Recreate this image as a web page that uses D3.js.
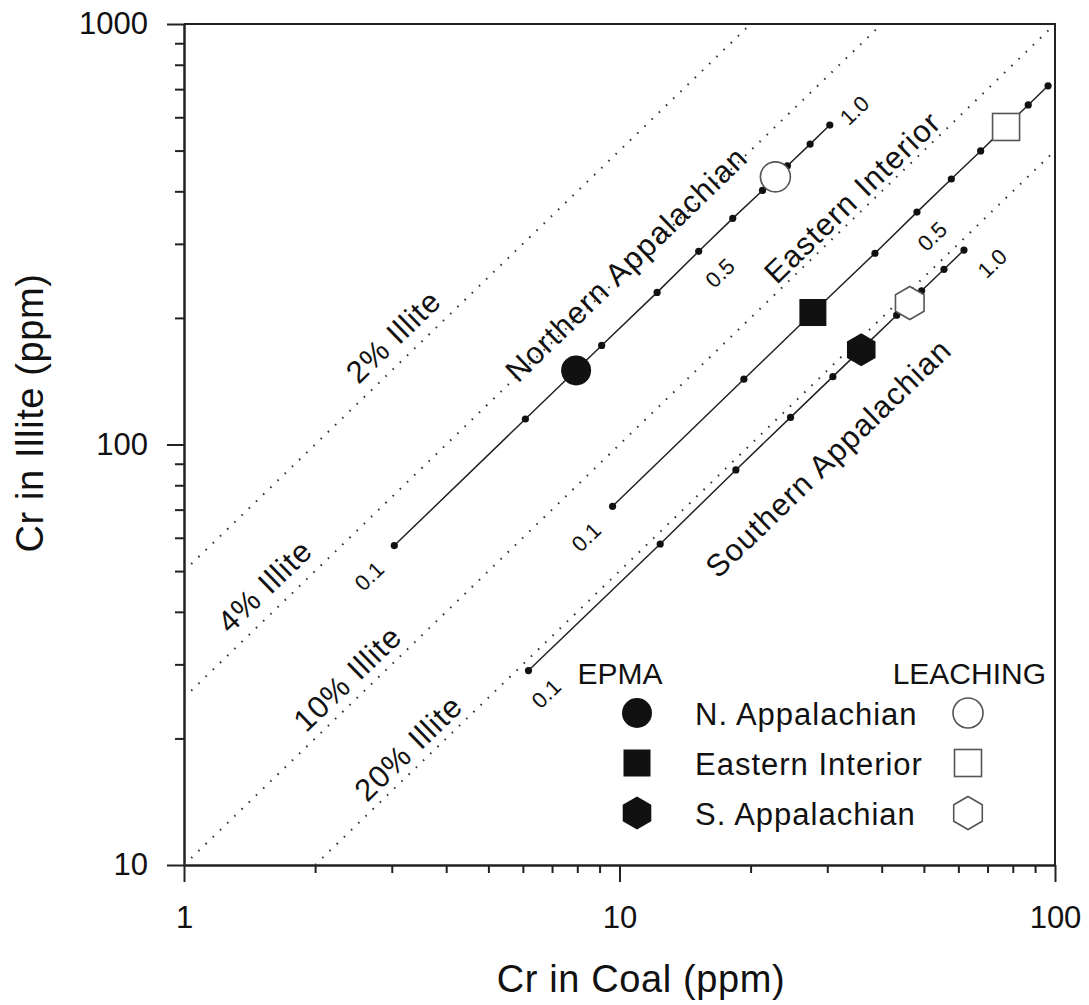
<!DOCTYPE html>
<html>
<head>
<meta charset="utf-8">
<script src="https://cdn.jsdelivr.net/npm/d3@7"></script>
<style>
  body { margin: 0; background: #fff; }
  text { font-family: "Liberation Sans", Arial, sans-serif; fill: #111; }
  .dotted { fill: none; stroke: #333; stroke-width: 2; stroke-dasharray: 1.6 8.4; }
  .mix { fill: none; stroke: #222; stroke-width: 1.5; }
  .axis path, .axis line { stroke: #222; stroke-width: 2; }
</style>
</head>
<body>
<svg id="chart" width="1089" height="1005"></svg>
<script>
// % illite reference lines, ends where they meet the frame
const illiteLabels = ["2% Illite", "4% Illite", "10% Illite", "20% Illite"];
const illiteStart = [[1, 50], [1, 25], [1, 10], [2, 10]];
const illiteEnd = [[20, 1000], [40, 1000], [100, 1000], [100, 500]];
const illiteLabelAt = [[3.02, 181], [1.53, 46.1], [2.37, 27.8], [3.27, 19.0]];

// mixing lines, illite fraction 0.1 ... 1.0
const basins = ["Northern Appalachian", "Eastern Interior", "Southern Appalachian"];
const basinLabelAt = [[10.35, 269], [34.2, 388], [30.1, 93]];
const naCoal = [3.04, 6.08, 9.1, 12.2, 15.2, 18.2, 21.3, 24.3, 27.4, 30.4];
const naIllite = [57.5, 115, 172, 230, 288, 345, 402, 460, 518, 575];
const eiCoal = [9.64, 19.3, 28.9, 38.6, 48.2, 57.8, 67.5, 77.1, 86.8, 96.4];
const eiIllite = [71.3, 143, 214, 285, 357, 428, 499, 570, 642, 713];
const saCoal = [6.18, 12.4, 18.5, 24.7, 30.9, 37.1, 43.3, 49.4, 55.6, 61.8];
const saIllite = [29, 58, 87, 116, 145, 174, 203, 232, 261, 290];

// fraction labels along the mixing lines
const fracText = ["0.1", "0.1", "0.1", "0.5", "0.5", "1.0", "1.0"];
const fracAt = [[2.66, 48.7], [8.38, 60.3], [6.78, 25.6], [17.0, 256], [52.2, 313], [34.6, 624], [71.7, 270]];

// EPMA (filled) and LEACHING (open) estimates
const regions = ["N. Appalachian", "Eastern Interior", "S. Appalachian"];
const shapes = ["circle", "square", "hexagon"];
const epmaCoal = [7.95, 27.8, 35.9];
const epmaIllite = [150, 206, 168];
const leachCoal = [22.8, 77.2, 46.4];
const leachIllite = [433, 569, 217];

const xTicks = [1, 10, 100];
const yTicks = [10, 100, 1000];

const svg = d3.select("svg#chart");
const margin = { top: 24, right: 34, bottom: 140, left: 184 };
const width = 1089 - margin.left - margin.right;
const height = 1005 - margin.top - margin.bottom;
const plot = svg.append("g")
  .attr("transform", "translate(" + margin.left + "," + margin.top + ")");

const x = d3.scaleLog().domain([1, 100]).range([0, width]);
const y = d3.scaleLog().domain([10, 1000]).range([height, 0]);

// angle of a y ~ x line in pixel space
const angle = Math.atan2(y(1000) - y(10), x(100) - x(1)) * 180 / Math.PI;

// minor ticks
const xMinor = [2, 3, 4, 5, 6, 7, 8, 9, 20, 30, 40, 50, 60, 70, 80, 90];
const yMinor = [20, 30, 40, 50, 60, 70, 80, 90, 200, 300, 400, 500, 600, 700, 800, 900];

plot.append("g").attr("class", "axis")
  .attr("transform", "translate(0," + height + ")")
  .call(d3.axisBottom(x).tickValues(xMinor).tickSize(8).tickSizeOuter(0).tickFormat(""));
plot.append("g").attr("class", "axis")
  .attr("transform", "translate(0," + height + ")")
  .call(d3.axisBottom(x).tickValues(xTicks).tickSize(17).tickSizeOuter(0).tickPadding(24).tickFormat(d3.format("d")))
  .selectAll("text").style("font-size", "31px").attr("fill", "#111");

plot.append("g").attr("class", "axis")
  .call(d3.axisLeft(y).tickValues(yMinor).tickSize(9).tickSizeOuter(0).tickFormat(""));
plot.append("g").attr("class", "axis")
  .call(d3.axisLeft(y).tickValues(yTicks).tickSize(17).tickSizeOuter(0).tickPadding(19).tickFormat(d3.format("d")))
  .selectAll("text").style("font-size", "31px").attr("fill", "#111");

// frame top and right
plot.append("path")
  .attr("d", "M0,0H" + width + "V" + height)
  .attr("fill", "none").attr("stroke", "#222").attr("stroke-width", 2);

// dotted % illite lines
plot.selectAll("line.dotted").data(illiteStart)
  .join("line")
  .attr("class", "dotted")
  .attr("x1", d => x(d[0])).attr("y1", d => y(d[1]))
  .attr("x2", (d, i) => x(illiteEnd[i][0])).attr("y2", (d, i) => y(illiteEnd[i][1]));

const rotText = function (sel, size) {
  sel.attr("transform", d => "translate(" + x(d[0]) + "," + y(d[1]) + ") rotate(" + angle + ")")
    .attr("text-anchor", "middle")
    .attr("dy", "0.36em")
    .style("font-size", size + "px");
};

plot.selectAll("text.illite").data(illiteLabelAt)
  .join("text")
  .attr("class", "illite")
  .call(rotText, 31)
  .style("letter-spacing", "1px")
  .text((d, i) => illiteLabels[i]);

// mixing lines with fraction dots
const mixLines = [[naCoal, naIllite], [eiCoal, eiIllite], [saCoal, saIllite]];
const line = d3.line().x(d => x(d[0])).y(d => y(d[1]));
mixLines.forEach(m => {
  const pts = m[0].map((c, i) => [c, m[1][i]]);
  plot.append("path").attr("class", "mix").attr("d", line(pts));
  plot.append("g").selectAll("circle").data(pts)
    .join("circle")
    .attr("cx", d => x(d[0])).attr("cy", d => y(d[1]))
    .attr("r", 3.6).attr("fill", "#111");
});

plot.selectAll("text.basin").data(basinLabelAt)
  .join("text")
  .attr("class", "basin")
  .call(rotText, 31)
  .style("letter-spacing", "1.2px")
  .text((d, i) => basins[i]);

plot.selectAll("text.frac").data(fracAt)
  .join("text")
  .attr("class", "frac")
  .call(rotText, 22)
  .text((d, i) => fracText[i]);

// symbol drawing
const hexagon = function (r) {
  return d3.range(6).map(k => {
    const a = (k * 60 - 90) * Math.PI / 180;
    return [r * Math.cos(a), r * Math.sin(a)];
  });
};
const drawMark = function (g, shape, filled) {
  let m;
  if (shape === "circle") {
    m = g.append("circle").attr("r", 15);
  } else if (shape === "square") {
    m = g.append("rect").attr("x", -13.5).attr("y", -13.5).attr("width", 27).attr("height", 27);
  } else {
    m = g.append("polygon").attr("points", hexagon(16.5).map(p => p.join(",")).join(" "));
  }
  if (filled) m.attr("fill", "#111");
  else m.attr("fill", "#fff").attr("stroke", "#555").attr("stroke-width", 1.6);
};

shapes.forEach((s, i) => {
  drawMark(plot.append("g").attr("transform", "translate(" + x(epmaCoal[i]) + "," + y(epmaIllite[i]) + ")"), s, true);
  drawMark(plot.append("g").attr("transform", "translate(" + x(leachCoal[i]) + "," + y(leachIllite[i]) + ")"), s, false);
});

// legend
const legend = svg.append("g");
legend.append("text").attr("x", 620).attr("y", 684).attr("text-anchor", "middle")
  .style("font-size", "30px").text("EPMA");
legend.append("text").attr("x", 1046).attr("y", 684).attr("text-anchor", "end")
  .style("font-size", "30px").text("LEACHING");
regions.forEach((r, i) => {
  const cy = 713 + i * 50;
  drawMark(legend.append("g").attr("transform", "translate(637," + cy + ")"), shapes[i], true);
  drawMark(legend.append("g").attr("transform", "translate(968," + cy + ")"), shapes[i], false);
  legend.append("text").attr("x", 695).attr("y", cy + 12)
    .style("font-size", "31px").style("letter-spacing", "1px").text(r);
});

// axis titles
svg.append("text").attr("x", 641).attr("y", 992).attr("text-anchor", "middle")
  .style("font-size", "38px").style("letter-spacing", "0.6px").text("Cr in Coal (ppm)");
svg.append("text").attr("transform", "translate(43,413) rotate(-90)").attr("text-anchor", "middle")
  .style("font-size", "38px").style("letter-spacing", "0.6px").text("Cr in Illite (ppm)");
</script>
</body>
</html>
